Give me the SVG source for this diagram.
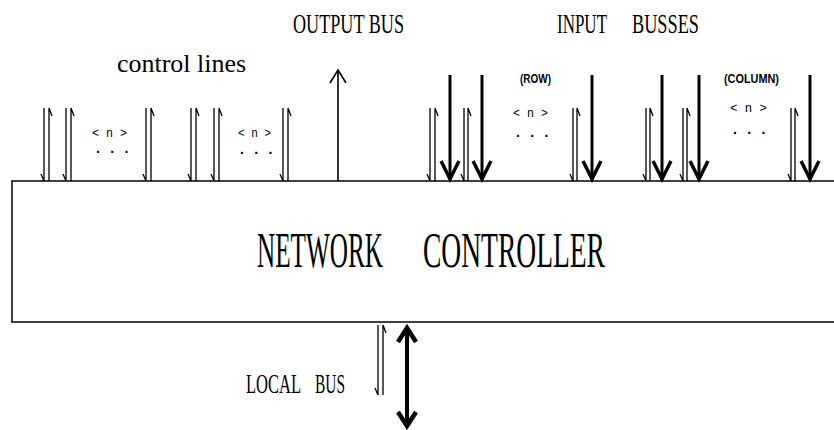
<svg xmlns="http://www.w3.org/2000/svg" width="834" height="430" viewBox="0 0 834 430">
<style>
.box{fill:none;stroke:#000;stroke-width:1.5}
.thin{fill:none;stroke:#000;stroke-width:1.3}
.bus{fill:none;stroke:#000;stroke-width:3}
.out{fill:none;stroke:#000;stroke-width:1.6}
.local{fill:none;stroke:#000;stroke-width:4}
.lbl{font-family:"Liberation Serif","Times New Roman",serif;fill:#000}
.big{font-family:"Liberation Serif","Times New Roman",serif;font-size:51px;fill:#000}
.sm{font-family:"Liberation Sans",Arial,sans-serif;font-size:12px;font-weight:bold;fill:#000}
.n{font-family:"Liberation Mono","Courier New",monospace;font-size:13px;fill:#000}
.dots{font-family:"Liberation Mono","Courier New",monospace;font-size:14px;font-weight:bold;letter-spacing:5.8px;fill:#000}
</style>
<defs>
<marker id="chevBus" markerUnits="userSpaceOnUse" markerWidth="30" markerHeight="30" viewBox="0 0 30 30" refX="19" refY="15" orient="auto">
<path d="M1,6 L19,15 L1,24" fill="none" stroke="#000" stroke-width="3.5"/>
</marker>
<marker id="chevOut" markerUnits="userSpaceOnUse" markerWidth="24" markerHeight="24" viewBox="0 0 24 24" refX="15" refY="12" orient="auto">
<path d="M2,4 L15,12 L2,20" fill="none" stroke="#000" stroke-width="1.6"/>
</marker>
<marker id="chevLocal" markerUnits="userSpaceOnUse" markerWidth="30" markerHeight="30" viewBox="0 0 30 30" refX="17" refY="15" orient="auto-start-reverse">
<path d="M3,6 L17,15 L3,24" fill="none" stroke="#000" stroke-width="4.5"/>
</marker>
</defs>
<rect width="834" height="430" fill="#fff"/>

<g id="network-controller">
<path class="box" d="M834,181 H12 V322 H834"/>
<text class="big" transform="translate(257,267) scale(0.494,1)" textLength="255" lengthAdjust="spacingAndGlyphs">NETWORK</text>
<text class="big" transform="translate(423,267) scale(0.54,1)" textLength="337" lengthAdjust="spacingAndGlyphs">CONTROLLER</text>
</g>

<g id="connectors">
<g id="control-lines">
<path class="thin" d="M44,108 V181 M41,174 L44,181"/><path class="thin" d="M49,181 V108 L52,116"/>
<path class="thin" d="M66,108 V181 M63,174 L66,181"/><path class="thin" d="M71,181 V108 L74,116"/>
<path class="thin" d="M146,108 V181 M143,174 L146,181"/><path class="thin" d="M151,181 V108 L154,116"/>
<path class="thin" d="M191,108 V181 M188,174 L191,181"/><path class="thin" d="M196,181 V108 L199,116"/>
<path class="thin" d="M214,108 V181 M211,174 L214,181"/><path class="thin" d="M219,181 V108 L222,116"/>
<path class="thin" d="M283,108 V181 M280,174 L283,181"/><path class="thin" d="M288,181 V108 L291,116"/>
</g>
<g id="output-bus">
<path class="out" d="M338,181 V70" marker-end="url(#chevOut)"/>
</g>
<g id="input-busses">
<path class="thin" d="M430,108 V181 M427,174 L430,181"/><path class="thin" d="M435,181 V108 L438,116"/>
<path class="thin" d="M464,108 V181 M461,174 L464,181"/><path class="thin" d="M468,181 V108 L471,116"/>
<path class="thin" d="M573,108 V181 M570,174 L573,181"/><path class="thin" d="M577,181 V108 L580,116"/>
<path class="thin" d="M646,108 V181 M643,174 L646,181"/><path class="thin" d="M650,181 V108 L653,116"/>
<path class="thin" d="M683,108 V181 M680,174 L683,181"/><path class="thin" d="M687,181 V108 L690,116"/>
<path class="thin" d="M791,108 V181 M788,174 L791,181"/><path class="thin" d="M795,181 V108 L798,116"/>
<path class="bus" d="M450,75 V179" marker-end="url(#chevBus)"/>
<path class="bus" d="M482,75 V179" marker-end="url(#chevBus)"/>
<path class="bus" d="M592,75 V179" marker-end="url(#chevBus)"/>
<path class="bus" d="M662,75 V179" marker-end="url(#chevBus)"/>
<path class="bus" d="M699,75 V179" marker-end="url(#chevBus)"/>
<path class="bus" d="M810,75 V179" marker-end="url(#chevBus)"/>
</g>
<g id="local-bus">
<path class="thin" d="M378,325 V395 M375,388 L378,395"/><path class="thin" d="M383,395 V325 L386,333"/>
<path class="local" d="M407,328 V426" marker-start="url(#chevLocal)" marker-end="url(#chevLocal)"/>
</g>
</g>

<g id="labels">
<text class="lbl" x="117" y="72" font-size="25" textLength="129" lengthAdjust="spacingAndGlyphs">control lines</text>
<text class="lbl" font-size="28" transform="translate(293,33) scale(0.646,1)" textLength="171.9" lengthAdjust="spacingAndGlyphs">OUTPUT BUS</text>
<text class="lbl" font-size="28" transform="translate(557,33) scale(0.607,1)" textLength="82.4" lengthAdjust="spacingAndGlyphs">INPUT</text>
<text class="lbl" font-size="28" transform="translate(632,33) scale(0.652,1)" textLength="102.7" lengthAdjust="spacingAndGlyphs">BUSSES</text>
<text class="lbl" font-size="27" transform="translate(246,393) scale(0.611,1)" textLength="90" lengthAdjust="spacingAndGlyphs">LOCAL</text>
<text class="lbl" font-size="27" transform="translate(315,393) scale(0.571,1)" textLength="52.5" lengthAdjust="spacingAndGlyphs">BUS</text>
<text class="sm" x="520" y="83" textLength="31" lengthAdjust="spacingAndGlyphs">(ROW)</text>
<text class="sm" x="724" y="83" textLength="55" lengthAdjust="spacingAndGlyphs">(COLUMN)</text>
<text class="n" x="92" y="137" textLength="35" lengthAdjust="spacingAndGlyphs">&lt; n &gt;</text>
<text class="n" x="238" y="137" textLength="33" lengthAdjust="spacingAndGlyphs">&lt; n &gt;</text>
<text class="n" x="513" y="117" textLength="35" lengthAdjust="spacingAndGlyphs">&lt; n &gt;</text>
<text class="n" x="730" y="112" textLength="37" lengthAdjust="spacingAndGlyphs">&lt; n &gt;</text>
<text class="dots" x="93.8" y="153">...</text>
<text class="dots" x="237.8" y="154">...</text>
<text class="dots" x="513.8" y="137">...</text>
<text class="dots" x="730.8" y="134">...</text>
</g>
</svg>
